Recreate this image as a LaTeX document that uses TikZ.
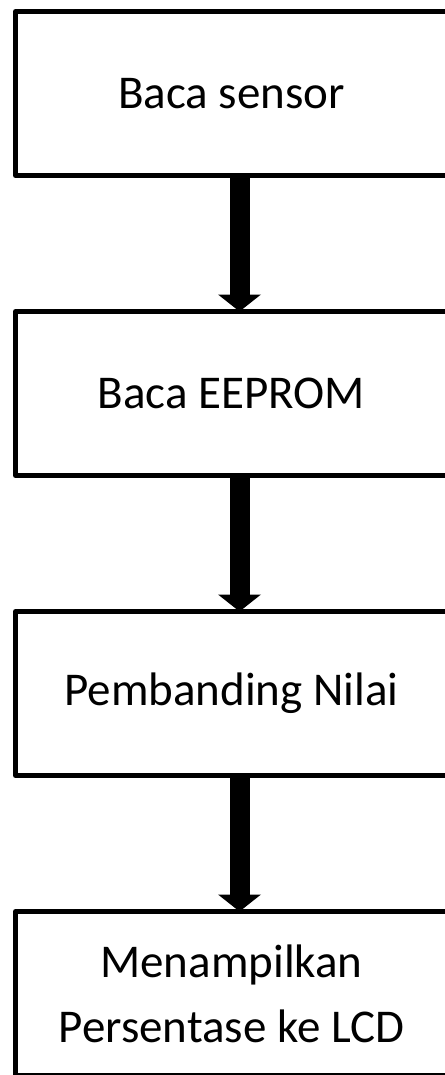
\documentclass[tikz,border=0pt]{standalone}
\usepackage{fontspec}
\setmainfont{Carlito}
\usetikzlibrary{arrows.meta}
\begin{document}
\begin{tikzpicture}[x=1pt,y=-1pt,
  box/.style={draw, line width=5pt, line join=round, minimum width=432pt, minimum height=164pt,
    inner sep=0pt, outer sep=0pt, font=\fontsize{47}{65}\selectfont, align=center, anchor=north west},
  flow/.style={line width=20pt, -{Triangle[width=43pt,length=17pt,line width=0pt]}}]
\useasboundingbox (0,0) rectangle (444,1075);
\node[box] (b1) at (15.5,11.5) {Baca sensor};
\node[box] (b2) at (15.5,311.5) {Baca EEPROM};
\node[box] (b3) at (15.5,611.5) {Pembanding Nilai};
\node[box] (b4) at (15.5,911.5) {Menampilkan\\Persentase ke LCD};
\draw[flow] ([xshift=8pt]b1.south) -- ([xshift=8pt]b2.north);
\draw[flow] ([xshift=8pt]b2.south) -- ([xshift=8pt]b3.north);
\draw[flow] ([xshift=8pt]b3.south) -- ([xshift=8pt]b4.north);
\end{tikzpicture}
\end{document}
